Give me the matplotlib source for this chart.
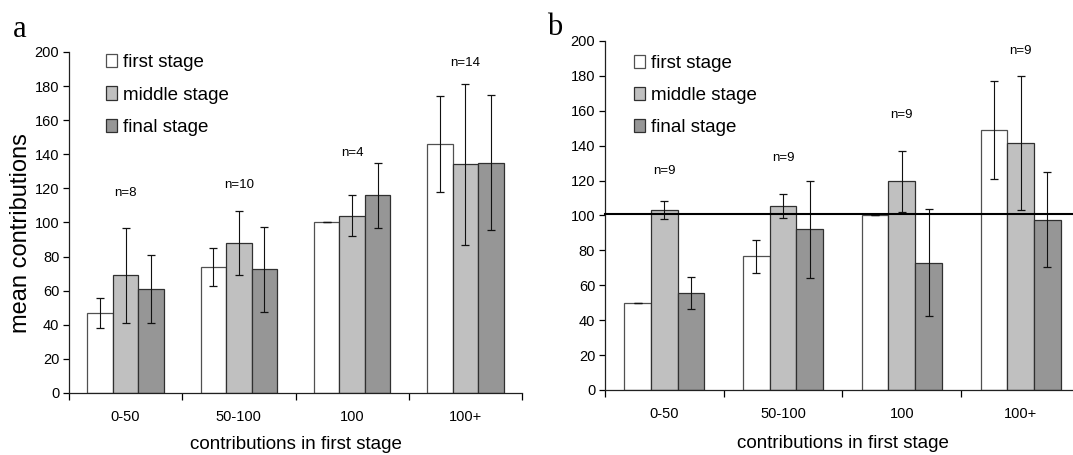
import matplotlib
matplotlib.use("Agg")
import matplotlib.pyplot as plt
import numpy as np

plt.rcParams['font.family'] = ['Liberation Sans', 'DejaVu Sans']

categories = ['0-50', '50-100', '100', '100+']
stages = ['first stage', 'middle stage', 'final stage']

# panel a
a_first = [47, 74, 100, 146]
a_first_err = [8.6, 11, 0, 28]
a_middle = [69, 88, 104, 134]
a_middle_err = [28, 19, 12, 47.5]
a_final = [61, 72.5, 116, 135]
a_final_err = [20, 25, 19, 39.5]
a_n = ['n=8', 'n=10', 'n=4', 'n=14']
a_n_y = [117, 122, 141, 193.5]

# panel b
b_first = [50, 76.5, 100, 149]
b_first_err = [0, 9.5, 0, 28]
b_middle = [103, 105.5, 119.5, 141.5]
b_middle_err = [5.2, 6.7, 17.7, 38.6]
b_final = [55.5, 92, 73, 97.5]
b_final_err = [9.2, 27.7, 30.7, 27.2]
b_n = ['n=9', 'n=9', 'n=9', 'n=9']
b_n_y = [125.5, 133, 157.5, 194]
b_line = 101

colors = ['white', '#c0c0c0', '#969696']
edges = ['#505050', '#303030', '#303030']
width = 0.225


def draw_panel(ax, vals, errs, nlab, ny):
    x = np.arange(len(categories))
    for i in range(3):
        ax.bar(x + (i - 1) * width, vals[i], width, color=colors[i],
               edgecolor=edges[i], linewidth=0.9, label=stages[i], zorder=2)
        ax.errorbar(x + (i - 1) * width, vals[i], yerr=errs[i], fmt='none',
                    ecolor='#111111', elinewidth=0.8, capsize=2.6,
                    capthick=0.9, zorder=3)
    for j in range(len(categories)):
        ax.text(x[j], ny[j], nlab[j], ha='center', va='center', fontsize=9.5)
    ax.set_xlim(-0.5, len(categories) - 0.5)
    ax.set_ylim(0, 200)
    ax.set_yticks(np.arange(0, 201, 20))
    ax.set_xticks(np.arange(len(categories) + 1) - 0.5)
    ax.set_xticklabels([])
    ax.set_xticks(x, minor=True)
    ax.set_xticklabels(categories, minor=True)
    ax.tick_params(axis='x', which='major', direction='out', length=5, width=0.9)
    ax.tick_params(axis='x', which='minor', length=0, pad=12, labelsize=10.5)
    ax.tick_params(axis='y', direction='out', length=4, width=0.9, pad=3,
                   labelsize=10.5)
    for s in ['top', 'right']:
        ax.spines[s].set_visible(False)
    for s in ['left', 'bottom']:
        ax.spines[s].set_linewidth(0.9)
        ax.spines[s].set_color('#202020')
    ax.set_xlabel('contributions in first stage', fontsize=13.5)


fig = plt.figure(figsize=(10.73, 4.55), dpi=100)
ax1 = fig.add_axes([0.0643, 0.1363, 0.4222, 0.7495])
ax2 = fig.add_axes([0.5638, 0.1429, 0.4427, 0.767])

draw_panel(ax1, [a_first, a_middle, a_final],
           [a_first_err, a_middle_err, a_final_err], a_n, a_n_y)
draw_panel(ax2, [b_first, b_middle, b_final],
           [b_first_err, b_middle_err, b_final_err], b_n, b_n_y)

ax2.axhline(b_line, color='black', linewidth=1.5, zorder=4, clip_on=False)

ax1.set_ylabel('mean contributions', fontsize=17)
ax1.yaxis.set_label_coords(-0.082, 0.469)
ax1.xaxis.set_label_coords(0.5, -0.125)
ax2.xaxis.set_label_coords(0.5, -0.13)

for ax, bx, by in [(ax1, 0.082, 0.993), (ax2, 0.061, 0.96)]:
    ax.legend(loc='upper left', bbox_to_anchor=(bx, by), frameon=False,
              fontsize=13.5, borderpad=0, borderaxespad=0, handlelength=0.6,
              handleheight=0.7, handletextpad=0.3, labelspacing=0.8)

fig.text(0.012, 0.919, 'a', family='Liberation Serif', fontsize=22)
fig.text(0.51, 0.923, 'b', family='Liberation Serif', fontsize=22)

fig.savefig('out.png', dpi=100)
